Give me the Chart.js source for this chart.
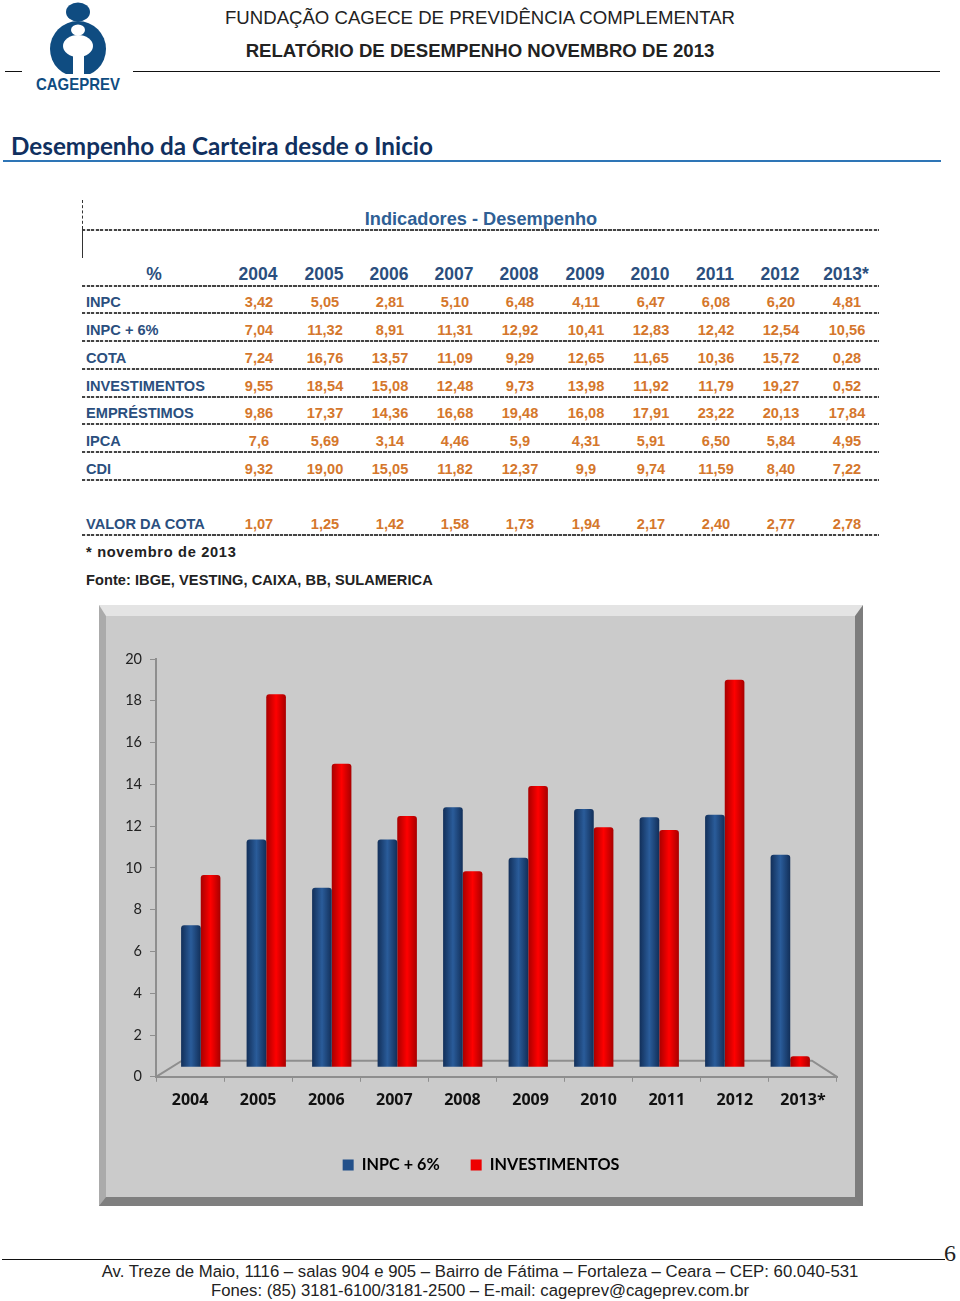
<!DOCTYPE html>
<html lang="pt"><head><meta charset="utf-8"><title>Desempenho da Carteira</title>
<script src="https://cdn.jsdelivr.net/npm/chart.js@4/dist/chart.umd.min.js"></script>
<style>
html,body{margin:0;padding:0;background:#fff}
#page{position:relative;width:960px;height:1301px;overflow:hidden;font-family:"Liberation Sans",Arial,sans-serif}
.t{position:absolute;white-space:nowrap;line-height:1}
.c{transform:translate(-50%,-50%)}
.l{transform:translateY(-50%)}
.r{position:absolute}
#panel{position:absolute;left:99px;top:605px;width:764px;height:601px;box-sizing:border-box;background:#cbcbcb;
border-style:solid;border-width:11px 8px 9px 7px;border-color:#e4e4e4 #7d7d7d #7f7f7f #ababab}
#cv{position:absolute;left:99px;top:605px}
</style></head><body><div id="page">
<svg style="position:absolute;left:30px;top:0" width="100" height="95" viewBox="0 0 100 95">
<ellipse cx="48" cy="12" rx="12" ry="9.5" fill="#0f4c81"/>
<circle cx="48" cy="49" r="28" fill="#0f4c81"/>
<ellipse cx="48" cy="30" rx="7" ry="5.5" fill="#fff"/>
<ellipse cx="48" cy="46" rx="15" ry="11" fill="#fff"/>
<rect x="43" y="50" width="11" height="28" fill="#fff"/>
<rect x="15" y="74" width="66" height="4" fill="#fff"/>
<text x="48" y="90" text-anchor="middle" font-family="Liberation Sans" font-weight="700" font-size="17" textLength="84" lengthAdjust="spacingAndGlyphs" fill="#0f4c81">CAGEPREV</text>
</svg>
<div id="panel"></div>
<canvas id="cv" width="764" height="601"></canvas>
</div>
<script>
const rowYears=['2004','2005','2006','2007','2008','2009','2010','2011','2012','2013*'];
const inpc=['3,42','5,05','2,81','5,10','6,48','4,11','6,47','6,08','6,20','4,81'];
const inpc6=['7,04','11,32','8,91','11,31','12,92','10,41','12,83','12,42','12,54','10,56'];
const cota=['7,24','16,76','13,57','11,09','9,29','12,65','11,65','10,36','15,72','0,28'];
const invest=['9,55','18,54','15,08','12,48','9,73','13,98','11,92','11,79','19,27','0,52'];
const emprest=['9,86','17,37','14,36','16,68','19,48','16,08','17,91','23,22','20,13','17,84'];
const ipca=['7,6','5,69','3,14','4,46','5,9','4,31','5,91','6,50','5,84','4,95'];
const cdi=['9,32','19,00','15,05','11,82','12,37','9,9','9,74','11,59','8,40','7,22'];
const valorCota=['1,07','1,25','1,42','1,58','1,73','1,94','2,17','2,40','2,77','2,78'];

const chartInpc6=[7.04,11.32,8.91,11.31,12.92,10.41,12.83,12.42,12.54,10.56];
const chartInvest=[9.55,18.54,15.08,12.48,9.73,13.98,11.92,11.79,19.27,0.52];

const page=document.getElementById('page');
function txt(x,y,s,cls,css){const d=document.createElement('div');d.className='t '+cls;d.textContent=s;d.style.left=x+'px';d.style.top=y+'px';d.style.cssText+=css;page.appendChild(d);return d}
function rule(x,y,w,css){const d=document.createElement('div');d.className='r';d.style.left=x+'px';d.style.top=y+'px';d.style.width=w+'px';d.style.cssText+=css;page.appendChild(d)}
txt(480,18,'FUNDAÇÃO CAGECE DE PREVIDÊNCIA COMPLEMENTAR','c','font-size:18.6px;color:#222');
txt(480,51,'RELATÓRIO DE DESEMPENHO NOVEMBRO DE 2013','c','font-size:18.6px;font-weight:700;color:#222');
rule(5,71,17,'border-top:1.5px solid #111');rule(133,71,807,'border-top:1.5px solid #111');
txt(11,145,'Desempenho da Carteira desde o Inicio','l','font:700 24.25px Lato;color:#10305f');
rule(3,160,938,'border-top:2px solid #2e75b6');
txt(481,219,'Indicadores - Desempenho','c','font-size:18.2px;font-weight:700;color:#2f5f95');
const navy='#2b4f7e',orange='#d5772c',dash='height:2px;background:repeating-linear-gradient(90deg,#444 0 3px,rgba(68,68,68,.15) 3px 4.5px)';
rule(82,228.5,797,dash);
rule(82,200,0,'height:29px;border-left:1.5px dashed #333');
rule(82,229,0,'height:29px;border-left:1.5px solid #333');
const cols=[258,324,389,454,519,585,650,715,780,846];
txt(154,275,'%','c','font-size:17.5px;font-weight:700;color:'+navy);
rowYears.forEach((y,i)=>txt(cols[i],275,y,'c','font-size:17.5px;font-weight:700;color:'+navy));
rule(82,284.5,797,dash);
const rows=[['INPC',inpc,302],['INPC + 6%',inpc6,330],['COTA',cota,358],['INVESTIMENTOS',invest,386],['EMPRÉSTIMOS',emprest,413],['IPCA',ipca,441],['CDI',cdi,469],['VALOR DA COTA',valorCota,524]];
rows.forEach(([name,vals,y])=>{
 txt(86,y,name,'l','font-size:14.6px;font-weight:700;color:'+navy);
 vals.forEach((v,i)=>txt(cols[i]+1,y,v,'c','font-size:14.6px;font-weight:700;color:'+orange));
 rule(82,y+10,797,dash);
});
txt(86,552,'* novembro de 2013','l','font-size:14.6px;font-weight:700;letter-spacing:.7px;color:#222');
txt(86,580,'Fonte: IBGE, VESTING, CAIXA, BB, SULAMERICA','l','font-size:14.6px;font-weight:700;letter-spacing:.05px;color:#222');
rule(2,1259,943,'border-top:1.5px solid #111');
txt(480,1272,'Av. Treze de Maio, 1116 – salas 904 e 905 – Bairro de Fátima – Fortaleza – Ceara – CEP: 60.040-531','c','font-size:16.75px;color:#222');
txt(480,1291,'Fones: (85) 3181-6100/3181-2500 – E-mail: cageprev@cageprev.com.br','c','font-size:16.7px;color:#222');
txt(950,1253,'6','c','font:24px "Liberation Serif";color:#222');

function barFill(dark,mid,side){return c=>{
 if(c.type!=='data')return mid;
 const s=c.chart.scales.xb,step=(s.right-s.left)/s.ticks.length,cx=s.getPixelForValue(c.dataIndex),w=step*0.6;
 const a=side<0?cx-w/2:cx,b=a+w/2;
 const g=c.chart.ctx.createLinearGradient(a,0,b,0);
 g.addColorStop(0,dark);g.addColorStop(.5,mid);g.addColorStop(1,dark);return g}}
const depth3d={id:'depth3d',
 afterLayout(ch){
  const a=ch.chartArea,xb=ch.scales.xb,yb=ch.scales.yb;
  xb.left=a.left+12;xb.right=a.right-14;xb.width=xb.right-xb.left;xb.configure();
  yb.top=a.top+6;yb.bottom=a.bottom-10;yb.height=yb.bottom-yb.top;yb.configure();
  ch.legend.left+=13;ch.legend.right+=13;
 },
 beforeDatasetsDraw(ch){
  const c=ch.ctx,a=ch.chartArea,xb=ch.scales.xb,y=ch.scales.y.getPixelForValue(0),by=ch.scales.y.getPixelForValue(0.77);
  c.save();c.strokeStyle='#8e8e8e';c.lineWidth=2;c.beginPath();
  c.moveTo(a.left,y);c.lineTo(xb.left+14,by);c.lineTo(xb.right-11,by);c.lineTo(a.right,y);c.stroke();c.restore();
 }};
new Chart(document.getElementById('cv'),{type:'bar',
 data:{labels:rowYears,datasets:[
  {label:'INPC + 6%',data:chartInpc6,xAxisID:'xb',yAxisID:'yb',base:-0.25,backgroundColor:barFill('#122f59','#2a5c9a',-1)},
  {label:'INVESTIMENTOS',data:chartInvest,xAxisID:'xb',yAxisID:'yb',base:-0.25,backgroundColor:barFill('#a80000','#ff0000',1)}]},
 plugins:[depth3d],
 options:{responsive:false,animation:false,maintainAspectRatio:false,
  layout:{padding:{left:0,right:26,top:54,bottom:23}},
  datasets:{bar:{categoryPercentage:.6,barPercentage:1,borderSkipped:false,borderRadius:{topLeft:3,topRight:3,bottomLeft:4,bottomRight:4}}},
  plugins:{tooltip:{enabled:false},title:{display:false},
   legend:{position:'bottom',labels:{boxWidth:11,boxHeight:11,padding:31,color:'#111',font:{family:'Lato',weight:'bold',size:16.2},
    generateLabels:()=>[{text:'INPC + 6%',fillStyle:'#23508a',strokeStyle:'#23508a',lineWidth:0,datasetIndex:0},{text:'INVESTIMENTOS',fillStyle:'#ee0000',strokeStyle:'#ee0000',lineWidth:0,datasetIndex:1}]}}},
  scales:{
   xb:{type:'category',display:false,offset:true},
   yb:{type:'linear',display:false,min:0,max:20},
   x:{type:'category',labels:rowYears,position:'bottom',offset:true,
    afterFit(s){s.height=49},
    border:{color:'#8e8e8e',width:2},grid:{drawOnChartArea:false,tickLength:5,color:'#8e8e8e',offset:true},
    ticks:{padding:9,color:'#111',maxRotation:0,autoSkip:false,font:{family:'Open Sans',weight:'bold',size:16}}},
   y:{type:'linear',position:'left',min:0,max:20,
    afterFit(s){s.width=57},
    border:{color:'#8e8e8e',width:2},grid:{drawOnChartArea:false,tickLength:6,color:'#8e8e8e'},
    ticks:{stepSize:2,padding:8,color:'#222',font:{family:'Lato',size:14.5}}}
  }}});
</script></body></html>
